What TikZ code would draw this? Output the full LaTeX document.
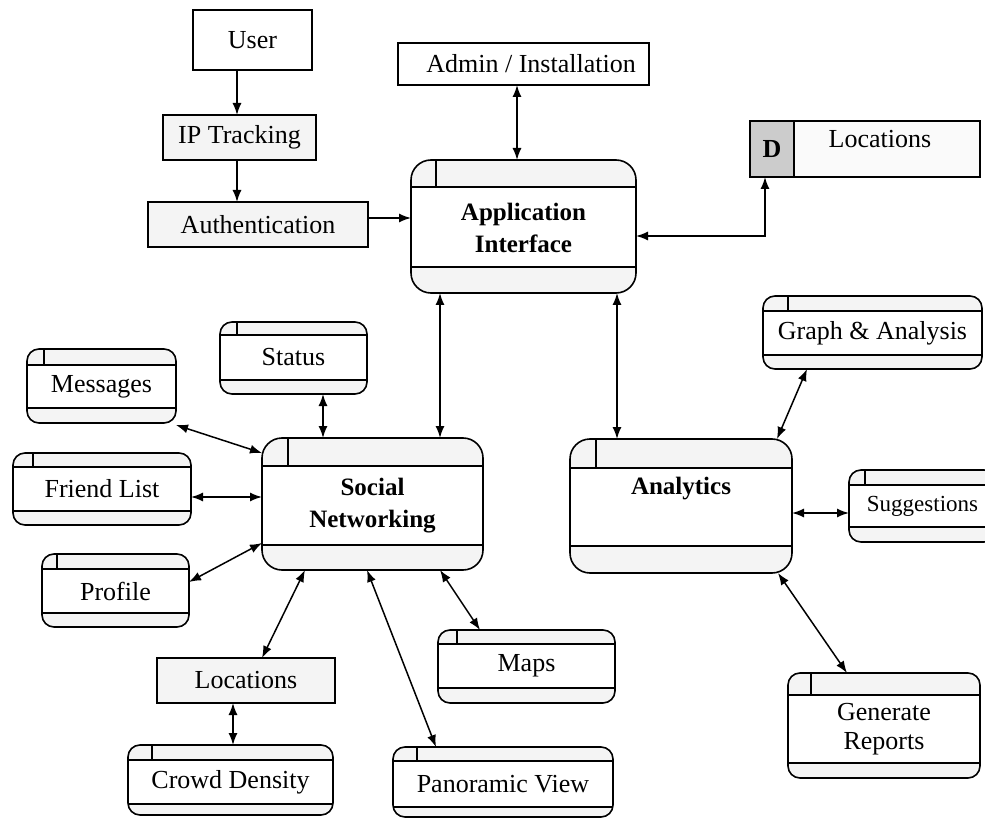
\documentclass[tikz,border=0pt]{standalone}
\usepackage{fontspec}
\setmainfont{Liberation Serif}
\usetikzlibrary{arrows.meta}
\tikzset{
  boxline/.style={line width=1.6pt},
  shd/.style={fill=gray!9},
  lbl/.style={font=\fontsize{26}{29}\selectfont, align=center, inner sep=0pt},
  blbl/.style={font=\fontsize{25}{32}\selectfont\bfseries, align=center, inner sep=0pt},
  rbox/.style={draw, line width=1.6pt, inner sep=0pt, outer sep=0pt, font=\fontsize{26}{29}\selectfont},
  pnode/.style={draw, line width=1.6pt, inner sep=0pt, outer sep=0pt},
  conn/.style={line width=1.5pt, {Latex[length=12pt,width=9pt]}-{Latex[length=12pt,width=9pt]}},
  one/.style={line width=1.5pt, -{Latex[length=12pt,width=9pt]}}
}
\def\rad{12pt}
% name, x1, y1, x2, y2, header y, footer y, tab x, text
\newcommand\proc[9]{%
  \begin{scope}
    \clip[rounded corners=\rad] (#2,#3) rectangle (#4,#5);
    \fill[shd] (#2,#3) rectangle (#4,#6);
    \fill[shd] (#2,#7) rectangle (#4,#5);
  \end{scope}
  \node[pnode, rounded corners=\rad, minimum width={(#4-#2)*1pt}, minimum height={(#5-#3)*1pt}] (#1) at ({(#2+#4)/2},{(#3+#5)/2}) {};
  \draw[boxline] (#2,#6) -- (#4,#6) (#2,#7) -- (#4,#7) (#8,#3) -- (#8,#6);
  \node[lbl] at ({(#2+#4)/2},{(#6+#7)/2}) {#9};
}
\begin{document}
\begin{tikzpicture}[x=1pt,y=-1pt]
\useasboundingbox (0,0) rectangle (985,818);
\fill[white] (0,0) rectangle (985,818);

% plain boxes
\node[rbox, fill=white, minimum width=119pt, minimum height=60pt] (user) at (252.5,40) {User};
\node[rbox, fill=gray!9, minimum width=153pt, minimum height=45pt] (ip) at (239.5,137.5) {IP Tracking};
\node[rbox, fill=gray!9, minimum width=220pt, minimum height=45pt] (auth) at (258,224.5) {Authentication};
\node[rbox, fill=white, minimum width=251pt, minimum height=42pt] (admin) at (523.5,64) {};
\node[lbl] at (531,64) {Admin / Installation};
\node[rbox, fill=gray!9, minimum width=178pt, minimum height=45pt] (loc) at (246,680.5) {Locations};

% data store
\node[rbox, fill=gray!4, minimum width=230pt, minimum height=56pt] (dloc) at (865,149) {};
\node[rbox, fill=gray!40, minimum width=44pt, minimum height=56pt] (dtag) at (772,149) {\bfseries D};
\node[lbl] at (880,139) {Locations};

% process boxes
\def\rad{20pt}
\proc{app}{411}{160}{636}{293}{187}{267}{436}{}
\node[blbl] at (523.5,228) {Application\\Interface};
\proc{sn}{262}{438}{483}{570}{466}{545}{288}{}
\node[blbl] at (372.5,506) {Social\\Networking};
\proc{ana}{570}{439}{792}{573}{468}{546}{596}{}
\node[blbl] at (681,489) {Analytics};
\def\rad{12pt}
\proc{status}{220}{322}{367}{394}{335}{380}{237}{Status}
\proc{msg}{27}{349}{176}{423}{365}{408}{44}{Messages}
\proc{friend}{13}{453}{191}{525}{467}{511}{33}{Friend List}
\proc{profile}{42}{554}{189}{627}{569}{613}{57}{Profile}
\proc{maps}{438}{630}{615}{703}{644}{688}{457}{Maps}
\proc{crowd}{128}{745}{333}{815}{760}{804}{152}{Crowd Density}
\proc{pano}{393}{747}{613}{817}{761}{807}{417}{Panoramic View}
\proc{graph}{763}{296}{982}{369}{311}{355}{788}{Graph \& Analysis}
\proc{sugg}{849}{470}{996}{542}{485}{527}{865}{\fontsize{23}{26}\selectfont Suggestions}
\proc{rep}{788}{673}{980}{778}{695}{763}{811}{Generate\\Reports}

% connectors
\draw[one] (user.south -| 237,0) -- (ip.north -| 237,0);
\draw[one] (ip.south -| 237,0) -- (auth.north -| 237,0);
\draw[one] (auth.east |- 0,218) -- (app.west |- 0,218);
\draw[conn] (admin.south -| 517,0) -- (app.north -| 517,0);
\draw[conn] (app.east |- 0,236) -| (dtag.south -| 765,0);
\draw[conn] (app.south -| 440,0) -- (sn.north -| 440,0);
\draw[conn] (app.south -| 617,0) -- (ana.north -| 617,0);
\draw[conn] (status.south -| 323,0) -- (sn.north -| 323,0);
\draw[conn] (msg.east |- 0,425) -- (sn.west |- 0,453);
\draw[conn] (friend.east |- 0,497) -- (sn.west |- 0,497);
\draw[conn] (profile.east |- 0,582) -- (sn.west |- 0,543);
\draw[conn] (sn.south -| 305,0) -- (loc.north -| 262,0);
\draw[conn] (loc.south -| 233,0) -- (crowd.north -| 233,0);
\draw[conn] (sn.south -| 367,0) -- (pano.north -| 436,0);
\draw[conn] (sn.south -| 440,0) -- (maps.north -| 480,0);
\draw[conn] (graph.south -| 807,0) -- (ana.north -| 777,0);
\draw[conn] (ana.east |- 0,513) -- (sugg.west |- 0,513);
\draw[conn] (ana.south -| 778,0) -- (rep.north -| 847,0);
\end{tikzpicture}
\end{document}
